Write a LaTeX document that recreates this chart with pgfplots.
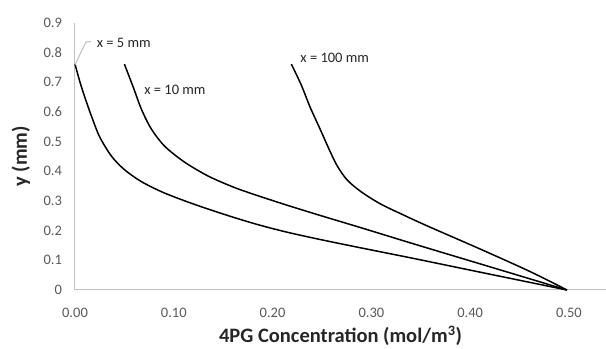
\documentclass[border=0pt]{standalone}
\usepackage{pgfplots}
\pgfplotsset{compat=1.18}
\usepackage{fontspec}
\setmainfont{Carlito}
\definecolor{tickgray}{HTML}{595959}
\definecolor{axgray}{HTML}{BFBFBF}
\begin{document}
\begin{tikzpicture}
\begin{axis}[
  scale only axis, width=531pt, height=267.5pt,
  xmin=0, xmax=0.5375, ymin=0, ymax=0.9,
  axis x line*=bottom, axis y line*=left,
  axis line style={draw=axgray, line width=1pt},
  xtick={0,0.1,0.2,0.3,0.4,0.5},
  ytick={0,0.1,0.2,0.3,0.4,0.5,0.6,0.7,0.8,0.9},
  major tick length=0pt,
  /pgf/number format/assume math mode=true,
  tick label style={font=\fontsize{14.5}{16}\selectfont, color=tickgray},
  xticklabel style={/pgf/number format/fixed, /pgf/number format/fixed zerofill, /pgf/number format/precision=2, yshift=-15pt},
  yticklabel style={/pgf/number format/fixed, /pgf/number format/precision=1, xshift=-9.5pt},
  xlabel={4PG Concentration (mol/m\textsuperscript{3})},
  ylabel={y (mm)},
  label style={font=\fontsize{20.5}{22}\selectfont\bfseries, color=black!85},
  xlabel style={at={(axis description cs:0.5,0)}, anchor=base, yshift=-53pt},
  ylabel style={at={(axis description cs:-0.1017,0.5)}, anchor=center},
  clip=false,
]
% x = 5 mm
\addplot[black, line width=1.5pt, smooth, tension=0.5, no markers] coordinates {
(0,0.76) (0.005,0.70) (0.010,0.648) (0.017,0.582) (0.025,0.515) (0.037,0.450) (0.050,0.405) (0.067,0.365) (0.088,0.330) (0.111,0.300) (0.135,0.272) (0.160,0.245) (0.185,0.220) (0.214,0.195) (0.248,0.170) (0.289,0.142) (0.343,0.106) (0.41,0.060) (0.498,0)};
% x = 10 mm
\addplot[black, line width=1.5pt, smooth, tension=0.5, no markers] coordinates {
(0.050,0.76) (0.059,0.682) (0.0675,0.606) (0.0776,0.540) (0.091,0.483) (0.111,0.430) (0.135,0.383) (0.162,0.344) (0.189,0.313) (0.214,0.286) (0.248,0.251) (0.289,0.210) (0.343,0.155) (0.41,0.088) (0.498,0)};
% x = 100 mm
\addplot[black, line width=1.5pt, smooth, tension=0.5, no markers] coordinates {
(0.219,0.76) (0.229,0.69) (0.238,0.615) (0.248,0.542) (0.257,0.475) (0.265,0.420) (0.275,0.372) (0.289,0.332) (0.309,0.290) (0.334,0.250) (0.359,0.212) (0.41,0.138) (0.46,0.063) (0.498,0)};
% leader line
\draw[axgray, line width=1pt] (axis cs:0,0.758) -- (axis cs:0.011,0.834) -- (axis cs:0.016,0.836);
\node[anchor=west, inner sep=0pt, font=\fontsize{14.5}{16}\selectfont, text=black!85] at (axis cs:0.022,0.830) {x = 5 mm};
\node[anchor=west, inner sep=0pt, font=\fontsize{14.5}{16}\selectfont, text=black!85] at (axis cs:0.070,0.675) {x = 10 mm};
\node[anchor=west, inner sep=0pt, font=\fontsize{14.5}{16}\selectfont, text=black!85] at (axis cs:0.228,0.782) {x = 100 mm};
\end{axis}
\pgfresetboundingbox
\path[use as bounding box] ([shift={(-75pt,-59pt)}]current axis.south west) rectangle ([shift={(0pt,22.5pt)}]current axis.north east);
\end{tikzpicture}
\end{document}
